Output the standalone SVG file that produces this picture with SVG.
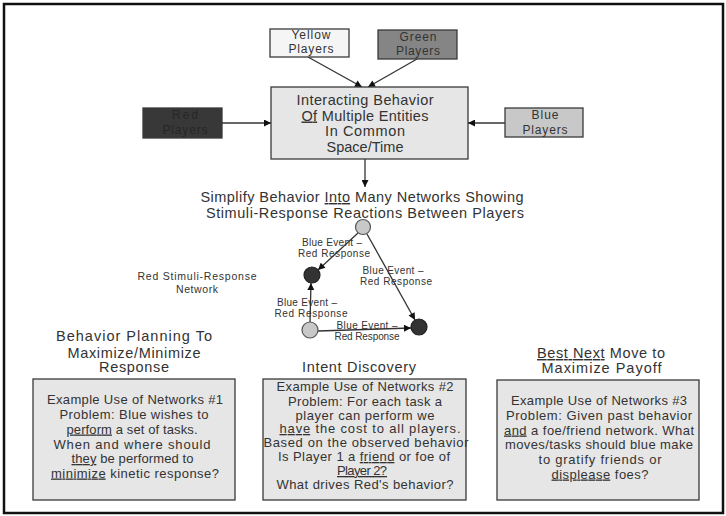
<svg xmlns="http://www.w3.org/2000/svg" width="726" height="516" viewBox="0 0 726 516">
<style>
text{font-family:"Liberation Sans",Arial,sans-serif;fill:#333;text-anchor:middle}
.box{stroke:#3a3a3a;stroke-width:1.3}
.conn{stroke:#333;stroke-width:1.3;fill:none}
.t12{font-size:12px}
.t14{font-size:14.5px}
.t13{font-size:13px}
.t10{font-size:10px}
.sq{text-decoration:underline;text-decoration-style:dotted;text-decoration-color:#9a9a9a}
.light{fill:#c8c8c8;stroke:#555;stroke-width:1.2}
.dark{fill:#333;stroke:#222;stroke-width:1.2}
</style>
<defs>
<marker id="ah" viewBox="0 0 10 10" refX="10" refY="5" markerWidth="8" markerHeight="7" markerUnits="userSpaceOnUse" orient="auto">
<path d="M0,0 L10,5 L0,10 z" fill="#111"/>
</marker>
</defs>
<rect x="0" y="0" width="726" height="516" fill="#fff"/>
<rect x="4" y="4" width="719" height="509" fill="none" stroke="#111" stroke-width="2.5"/>

<g id="connectors">
<line class="conn" x1="308" y1="57" x2="362" y2="87" marker-end="url(#ah)"/>
<line class="conn" x1="417" y1="59" x2="368" y2="87" marker-end="url(#ah)"/>
<line class="conn" x1="222" y1="123" x2="271" y2="123" marker-end="url(#ah)"/>
<line class="conn" x1="505" y1="123" x2="468" y2="123" marker-end="url(#ah)"/>
<line class="conn" x1="365" y1="159" x2="365" y2="187" marker-end="url(#ah)"/>
<line class="conn" x1="358" y1="233" x2="318" y2="270" marker-end="url(#ah)"/>
<line class="conn" x1="367" y1="234" x2="415" y2="320" marker-end="url(#ah)"/>
<line class="conn" x1="310" y1="322" x2="311" y2="283" marker-end="url(#ah)"/>
<line class="conn" x1="318" y1="331" x2="411" y2="328" marker-end="url(#ah)"/>
</g>

<g id="yellow">
<rect class="box" x="270" y="29" width="79" height="28" fill="#f5f5f5"/>
<text class="t12" x="311" y="39" textLength="39">Yellow</text>
<text class="t12" x="311" y="53" textLength="45">Players</text>
</g>
<g id="green">
<rect class="box" x="378" y="30" width="79" height="29" fill="#858585"/>
<text class="t12" x="418" y="40.5" textLength="37">Green</text>
<text class="t12" x="418" y="55" textLength="44">Players</text>
</g>
<g id="red">
<rect class="box" x="143" y="108" width="79" height="30" fill="#383838"/>
<text class="t12" x="185" y="119" textLength="26" style="fill:#262626">Red</text>
<text class="t12" x="185" y="134" textLength="45" style="fill:#262626">Players</text>
</g>
<g id="blue">
<rect class="box" x="505" y="108" width="78" height="29" fill="#c8c8c8"/>
<text class="t12" x="545" y="119" textLength="27">Blue</text>
<text class="t12" x="545" y="134" textLength="45">Players</text>
</g>
<g id="center">
<rect class="box" x="271" y="87" width="197" height="72" fill="#e6e6e6"/>
<text class="t14" x="365" y="105" textLength="137">Interacting Behavior</text>
<text class="t14" x="365" y="120.5" textLength="127"><tspan class="sq">Of</tspan> Multiple Entities</text>
<text class="t14" x="365" y="136" textLength="80">In Common</text>
<text class="t14" x="365" y="151.5" textLength="77">Space/Time</text>
</g>
<g id="simplify">
<text class="t14" x="362" y="202" textLength="323">Simplify Behavior <tspan class="sq">Into</tspan> Many Networks Showing</text>
<text class="t14" x="365" y="218" textLength="318">Stimuli-Response Reactions Between Players</text>
</g>

<g id="network-label">
<text style="font-size:10.5px" x="197" y="280" textLength="119">Red Stimuli-Response</text>
<text style="font-size:10.5px" x="197" y="292.5" textLength="42">Network</text>
</g>
<g id="n-top"><circle class="light" cx="363" cy="227" r="7.5"/></g>
<g id="n-left"><circle class="dark" cx="312" cy="275" r="8"/></g>
<g id="n-bl"><circle class="light" cx="310" cy="330" r="8"/></g>
<g id="n-br"><circle class="dark" cx="419" cy="327" r="8"/></g>
<g id="edge-labels">
<text class="t10" x="332" y="246" textLength="60">Blue Event –</text>
<text class="t10" x="334" y="256.5" textLength="72">Red Response</text>
<text class="t10" x="393" y="274" textLength="61">Blue Event –</text>
<text class="t10" x="396" y="285" textLength="72">Red Response</text>
<text class="t10" x="307" y="305.5" textLength="60">Blue Event –</text>
<text class="t10" x="311" y="317" textLength="73">Red Response</text>
<text class="t10" x="367" y="329" textLength="61">Blue Event –</text>
<text class="t10" x="367" y="340" textLength="65">Red Response</text>
</g>

<g id="title1">
<text class="t14" x="134" y="341" textLength="156">Behavior Planning To</text>
<text class="t14" x="134" y="357.5" textLength="133">Maximize/Minimize</text>
<text class="t14" x="134" y="372" textLength="70">Response</text>
</g>
<g id="box1">
<rect class="box" x="33" y="379" width="202" height="121" fill="#e6e6e6"/>
<text class="t13" x="135" y="404" textLength="176">Example Use of Networks #1</text>
<text class="t13" x="134" y="419" textLength="149">Problem: Blue wishes to</text>
<text class="t13" x="132" y="433.5" textLength="131"><tspan class="sq">perform</tspan> a set of tasks.</text>
<text class="t13" x="132" y="448.5" textLength="157">When and where should</text>
<text class="t13" x="132.5" y="463" textLength="122"><tspan class="sq">they</tspan> be performed to</text>
<text class="t13" x="135" y="477.5" textLength="168"><tspan class="sq">minimize</tspan> kinetic response?</text>
</g>

<g id="title2">
<text class="t14" x="359" y="371.5" textLength="114">Intent Discovery</text>
</g>
<g id="box2">
<rect class="box" x="263" y="379" width="203" height="121" fill="#e6e6e6"/>
<text class="t13" x="365" y="391" textLength="177">Example Use of Networks #2</text>
<text class="t13" x="365" y="405.5" textLength="154">Problem: For each task a</text>
<text class="t13" x="365" y="419.5" textLength="139">player can perform we</text>
<text class="t13" x="370" y="433" textLength="181"><tspan class="sq">have</tspan> the cost to all players.</text>
<text class="t13" x="366" y="447" textLength="205">Based on the observed behavior</text>
<text class="t13" x="364" y="461" textLength="172">Is Player 1 a <tspan class="sq">friend</tspan> or foe of</text>
<text class="t13" x="362" y="475" textLength="50"><tspan class="sq">Player 2?</tspan></text>
<text class="t13" x="365" y="489" textLength="177">What drives Red's behavior?</text>
</g>

<g id="title3">
<text class="t14" x="601" y="358" textLength="128"><tspan class="sq">Best Next</tspan> Move to</text>
<text class="t14" x="601.5" y="373" textLength="120">Maximize Payoff</text>
</g>
<g id="box3">
<rect class="box" x="497" y="380" width="202" height="120" fill="#e6e6e6"/>
<text class="t13" x="599" y="405" textLength="176">Example Use of Networks #3</text>
<text class="t13" x="599" y="420" textLength="186">Problem: Given past behavior</text>
<text class="t13" x="599" y="434.5" textLength="190"><tspan class="sq">and</tspan> a foe/friend network. What</text>
<text class="t13" x="599" y="449" textLength="188">moves/tasks should blue make</text>
<text class="t13" x="600" y="464" textLength="123">to gratify friends or</text>
<text class="t13" x="600" y="478.5" textLength="97"><tspan class="sq">displease</tspan> foes?</text>
</g>
</svg>
